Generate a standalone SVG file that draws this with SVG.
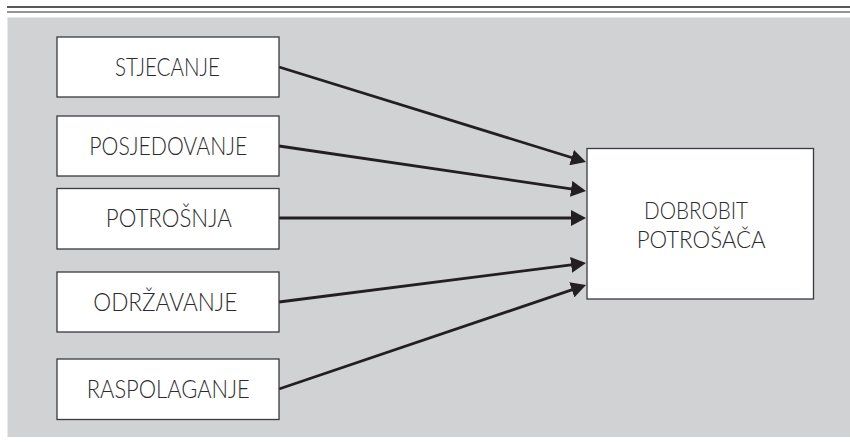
<svg xmlns="http://www.w3.org/2000/svg" width="850" height="444" viewBox="0 0 850 444">
  <defs>
    <style>
      .box { fill: #ffffff; stroke: #3a3a3c; stroke-width: 1.3; }
      .lbl { font-family: Lato, "Open Sans", "Liberation Sans", sans-serif; font-weight: 300; font-size: 25px; fill: #2b2b2d; text-anchor: middle; }
      .big { font-size: 24px; }
      .conn { stroke: #231f20; stroke-width: 2.8; fill: none; marker-end: url(#arrow); }
    </style>
    <marker id="arrow" markerUnits="userSpaceOnUse" markerWidth="15" markerHeight="16" viewBox="0 0 15 16" refX="10" refY="8" orient="auto">
      <path d="M0,0 L15,8 L0,16 z" fill="#231f20"/>
    </marker>
  </defs>
  <rect x="0" y="0" width="850" height="444" fill="#ffffff"/>
  <line x1="7" y1="7" x2="850" y2="7" stroke="#231f20" stroke-width="1.5"/>
  <line x1="7" y1="12" x2="850" y2="12" stroke="#939598" stroke-width="2"/>
  <rect x="7.5" y="17.5" width="842.5" height="419.5" fill="#d1d2d4"/>

  <g id="connectors">
    <line class="conn" x1="279" y1="67" x2="581.2" y2="160.5"/>
    <line class="conn" x1="279" y1="146" x2="581.05" y2="190.3"/>
    <line class="conn" x1="279" y1="218" x2="581" y2="218"/>
    <line class="conn" x1="279" y1="302" x2="581.04" y2="263.6"/>
    <line class="conn" x1="279" y1="389" x2="581.3" y2="286.6"/>
  </g>

  <g id="stjecanje">
    <rect class="box" x="57" y="37" width="222" height="60"/>
    <text class="lbl" x="167.5" y="76" textLength="105" lengthAdjust="spacingAndGlyphs">STJECANJE</text>
  </g>
  <g id="posjedovanje">
    <rect class="box" x="57" y="116" width="222" height="60"/>
    <text class="lbl" x="168.3" y="155" textLength="158" lengthAdjust="spacingAndGlyphs">POSJEDOVANJE</text>
  </g>
  <g id="potrosnja">
    <rect class="box" x="57" y="188.5" width="222" height="60.5"/>
    <text class="lbl" x="168.8" y="227" textLength="126" lengthAdjust="spacingAndGlyphs">POTROŠNJA</text>
  </g>
  <g id="odrzavanje">
    <rect class="box" x="57" y="272" width="222" height="60"/>
    <text class="lbl" x="165.3" y="311" textLength="144" lengthAdjust="spacingAndGlyphs">ODRŽAVANJE</text>
  </g>
  <g id="raspolaganje">
    <rect class="box" x="57" y="359" width="222" height="60.5"/>
    <text class="lbl" x="168.3" y="398" textLength="163" lengthAdjust="spacingAndGlyphs">RASPOLAGANJE</text>
  </g>
  <g id="dobrobit">
    <rect class="box" x="587" y="148.5" width="226.5" height="150.5"/>
    <text class="lbl big"><tspan x="696" y="219" textLength="104" lengthAdjust="spacingAndGlyphs">DOBROBIT</tspan><tspan x="701.2" y="248" textLength="129" lengthAdjust="spacingAndGlyphs">POTROŠAČA</tspan></text>
  </g>
</svg>
